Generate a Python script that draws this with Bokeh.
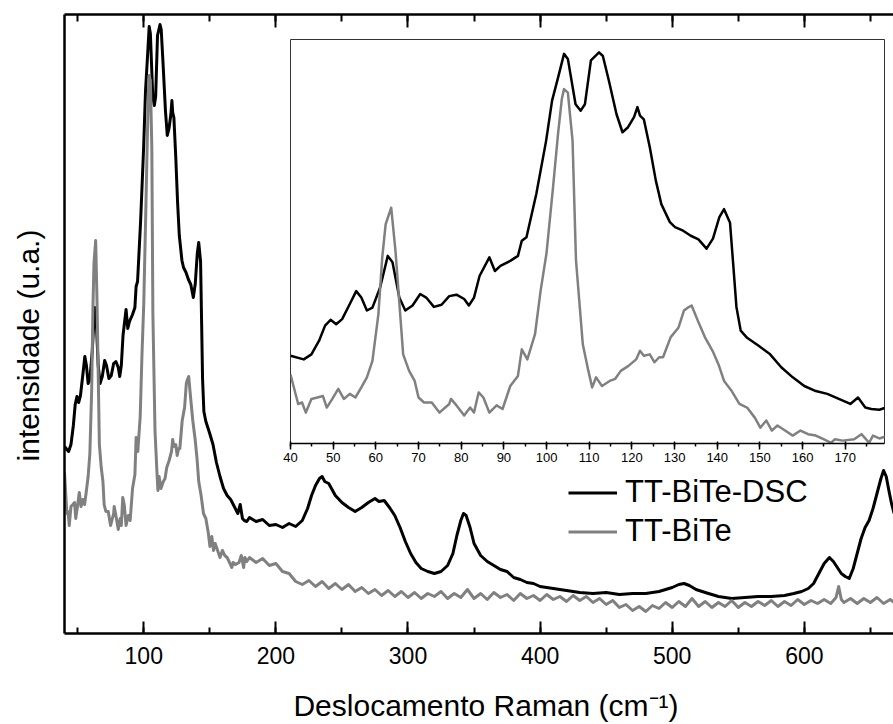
from bokeh.plotting import figure
from bokeh.models import (Range1d, LinearAxis, SingleIntervalTicker, FixedTicker, Legend,
                          LegendItem)
from bokeh.embed import file_html
from bokeh.resources import INLINE

FONT = "Liberation Sans"

# ---------------- data (Raman shift in cm-1, intensity in a.u.) ----------------
dsc_x = [40, 43.1, 44.9, 46.7, 48.1, 49.4, 50.7, 52.1, 53.9, 55.4, 56.6, 57.9, 59.2, 61, 62.8,
         63.9, 65.5, 66.9, 68.6, 70.4, 71.8, 73.6, 75.4, 77.2, 78.9, 80.7, 81.8, 83, 84.3, 86.6,
         87.9, 89.2, 91.5, 93.3, 94.2, 95.3, 97.6, 99.9, 101.3, 102.7, 104.1, 105, 106.8, 108,
         109, 110.4, 112.3, 113.2, 114.6, 116.4, 117.8, 119.1, 120.5, 121.3, 121.9, 122.8, 124.2,
         125.6, 126.9, 128.9, 130.1, 132, 133.8, 135.6, 137.5, 139, 140.5, 141.6, 143, 143.8,
         144.5, 145.5, 147, 149.7, 152.4, 155, 157.7, 160.4, 163.1, 165.8, 168.5, 171.2, 173,
         174.7, 176.1, 178,
         180, 185, 190, 195, 200, 205, 210, 215, 220, 224, 227, 230, 233, 235, 237, 240, 245,
         250, 255, 260, 265, 270, 275, 278, 282, 286, 290, 294, 298, 302, 306, 310, 315, 320,
         325, 330, 334, 337, 340, 342, 344, 347, 350, 355, 360, 365, 370, 375, 380, 385, 390,
         395, 400, 410, 420, 430, 440, 450, 460, 470, 480, 490, 495, 500, 505, 509, 513, 518,
         525, 535, 545, 555, 565, 575, 585, 592, 598, 603, 607, 611, 615, 619, 622, 625, 628,
         631, 634, 637, 640, 643, 646, 649, 652, 655, 658, 660, 662, 664, 666, 668]
dsc_y = [187, 182, 189, 208, 229, 237, 231, 238, 259, 277, 268, 250, 254, 282, 326,
         317, 268, 250, 257, 273, 268, 255, 258, 270, 272, 266, 257, 268, 298, 324,
         305, 312, 319, 326, 347, 352, 412, 486, 542, 574, 607, 600, 537, 528,
         537, 598, 609, 604, 570, 523, 498, 505, 519, 533, 521, 516, 477,
         431, 398, 373, 366, 361, 354, 349, 336, 350, 380, 391, 372, 310,
         255, 222, 212, 201, 189, 171, 157, 145, 138, 134, 127, 120, 129,
         115, 113, 112,
         116, 112, 114, 108, 109, 106, 110, 107, 113, 125, 138, 148, 155, 157, 152, 150, 138,
         131, 126, 122, 126, 131, 135, 132, 133, 126, 118, 106, 92, 80, 71, 65, 62, 60,
         62, 68, 80, 98, 113, 120, 118, 106, 90, 78, 72, 68, 64, 62, 56, 54, 51,
         50, 47, 45, 43, 41, 40, 41, 39, 40, 40, 42, 44, 46, 49, 50, 48, 44,
         41, 37, 35, 36, 37, 37, 38, 40, 42, 45, 50, 60, 70, 76, 72, 66, 60,
         57, 55, 65, 80, 95, 106, 113, 125, 140, 155, 163, 157, 143, 130, 120]

bite_x = [40, 41.8, 42.7, 43.6, 44.9, 46.3, 47.6, 48.5, 49.8, 51.2, 52.5, 53.9, 55.2, 56.6,
          57.9, 59.2, 60.6, 61.5, 62.3, 63.6, 64.6, 66.4, 67.8, 69.1, 70, 71.3, 73.1, 74.9,
          77.2, 77.6, 78.9, 80.7, 82.1, 83, 84.1, 85.2, 86.6, 88.3, 89.7, 91.5, 93.3, 94.2,
          95.5, 97.3, 98.6, 100, 101.5, 102.7, 103.6, 104.1, 105, 106.1, 106.9, 108.5, 109.8,
          110.7, 111.6, 113, 114.8, 116.1, 117.4, 119.2, 121, 121.9, 122.8, 124.2, 125.3,
          126.4, 127.3, 129.1, 130.9, 132.2, 133.1, 134, 135.3, 137.1, 138.9, 140.3, 141.6,
          143.4, 145.2, 147, 148.8, 150.1, 151.5, 152.8, 154.1, 155.9, 157.7, 159.5, 161.3,
          163.1, 164.9, 166.7, 167.6, 169.4, 172.1, 173.8, 175.6, 176.5, 178,
          180, 185, 190, 195, 200, 205, 210, 215, 220, 225, 230, 235, 240, 245, 250, 255,
          260, 265, 270, 275, 280, 285, 290, 295, 300, 305, 310, 315, 320, 325, 330, 335,
          340, 345, 350, 355, 360, 365, 370, 375, 380, 385, 390, 395, 400, 405, 410, 415,
          420, 425, 430, 435, 440, 445, 450, 455, 460, 465, 470, 475, 480, 485, 490, 495,
          500, 505, 510, 515, 520, 525, 530, 535, 540, 545, 550, 555, 560, 565, 570, 575,
          580, 585, 590, 595, 600, 605, 610, 615, 620, 624, 626, 628, 630, 635, 640, 645,
          650, 655, 660, 665, 668]
bite_y = [161, 120, 122, 108, 127, 129, 131, 115, 127, 141, 127, 134, 129, 143,
          157, 180, 245, 324, 370, 393, 333, 189, 166, 152, 129, 122, 122, 108,
          120, 127, 118, 104, 115, 108, 136, 129, 108, 118, 113, 145, 159, 196,
          182, 217, 277, 330, 420, 496, 545, 558, 553, 486, 320, 203, 166,
          143, 157, 145, 152, 155, 166, 173, 182, 194, 187, 189, 178,
          185, 185, 213, 226, 250, 254, 257, 238, 213, 194, 175, 152,
          138, 120, 115, 101, 87, 97, 83, 90, 83, 76, 83, 78,
          76, 71, 66, 71, 69, 71, 78, 66, 76, 72,
          76, 71, 75, 68, 70, 62, 60, 52, 49, 53, 47, 52, 45, 50, 44, 49,
          42, 46, 40, 44, 38, 43, 37, 42, 36, 41, 35, 40, 37, 42, 35, 40,
          36, 44, 35, 40, 34, 41, 36, 39, 33, 40, 35, 38, 33, 39, 34, 37,
          32, 38, 33, 37, 31, 35, 29, 33, 26, 29, 23, 27, 22, 28, 25, 31,
          26, 32, 27, 35, 27, 32, 26, 31, 27, 33, 26, 31, 27, 32, 28, 33,
          27, 32, 28, 34, 29, 33, 30, 34, 30, 36, 47, 34, 31, 35, 30, 35,
          31, 36, 30, 34, 31]

series_names = ["TT-BiTe-DSC", "TT-BiTe"]
series_colors = ["#000000", "#808080"]
x_title = "Deslocamento Raman (cm\u207b\u00b9)"
y_title = "intensidade (u.a.)"

main_xticks_interval = 100
inset_xticks_interval = 10

W, H = 893, 724


def title_axis(text, size):
    """An invisible axis that only carries a title text."""
    ax = LinearAxis(ticker=FixedTicker(ticks=[]))
    ax.axis_line_color = None
    ax.major_tick_line_color = None
    ax.minor_tick_line_color = None
    ax.major_tick_in = 0
    ax.major_tick_out = 0
    ax.minor_tick_out = 0
    ax.major_label_text_color = None
    ax.major_label_standoff = 0
    ax.axis_label = text
    ax.axis_label_text_font = FONT
    ax.axis_label_text_font_size = size
    ax.axis_label_text_font_style = "normal"
    ax.axis_label_text_color = "black"
    return ax


def overlay(**borders):
    """A transparent figure laid exactly over the main one."""
    f = figure(width=W, height=H, output_backend="svg", toolbar_location=None,
               x_range=Range1d(0, 1), y_range=Range1d(0, 1),
               x_axis_location=None, y_axis_location=None, **borders)
    f.grid.visible = False
    f.outline_line_color = None
    f.background_fill_alpha = 0
    f.border_fill_alpha = 0
    f.styles = {"position": "absolute", "left": "0px", "top": "0px"}
    return f


# ---------------- main plot ----------------
p = figure(width=W, height=H, output_backend="svg", toolbar_location=None,
           x_range=Range1d(40, 667.5), y_range=Range1d(0, 619),
           x_axis_location=None, y_axis_location=None,
           min_border_left=64, min_border_right=0, min_border_top=14,
           min_border_bottom=91)
p.outline_line_color = None
p.background_fill_color = "white"
p.border_fill_color = "white"
p.grid.visible = False

bottom = LinearAxis(ticker=SingleIntervalTicker(interval=main_xticks_interval, num_minor_ticks=2))
bottom.axis_line_width = 2.5
bottom.major_tick_line_width = 2
bottom.minor_tick_line_width = 2
bottom.major_tick_in = 12
bottom.major_tick_out = 0
bottom.minor_tick_in = 6
bottom.minor_tick_out = 0
bottom.major_label_text_font = FONT
bottom.major_label_text_font_size = "23px"
bottom.major_label_text_color = "black"
bottom.major_label_standoff = 13
p.add_layout(bottom, "below")

top = LinearAxis(ticker=SingleIntervalTicker(interval=main_xticks_interval, num_minor_ticks=2))
top.axis_line_width = 2.5
top.major_tick_line_width = 2
top.minor_tick_line_width = 2
top.major_tick_in = 13
top.major_tick_out = 0
top.minor_tick_in = 7
top.minor_tick_out = 0
top.major_label_text_font_size = "1px"
top.major_label_text_color = None
top.major_label_standoff = 0
p.add_layout(top, "above")

left = LinearAxis(ticker=FixedTicker(ticks=[]))
left.axis_line_width = 2.5
left.major_tick_in = 0
left.major_tick_out = 0
left.minor_tick_in = 0
left.minor_tick_out = 0
left.major_tick_line_color = None
left.minor_tick_line_color = None
left.major_label_text_color = None
left.major_label_standoff = 0
p.add_layout(left, "left")

r_dsc = p.line(dsc_x, dsc_y, line_color=series_colors[0], line_width=3, line_join="round")
r_bite = p.line(bite_x, bite_y, line_color=series_colors[1], line_width=3, line_join="round")

legend = Legend(items=[LegendItem(label=series_names[0], renderers=[r_dsc]),
                       LegendItem(label=series_names[1], renderers=[r_bite])],
                location=(504, 84))
legend.border_line_color = None
legend.background_fill_alpha = 0
legend.padding = 0
legend.margin = 0
legend.spacing = 3
legend.glyph_width = 49
legend.glyph_height = 35
legend.label_height = 35
legend.label_standoff = 8
legend.label_text_font = FONT
legend.label_text_font_size = "31px"
legend.label_text_color = "black"
p.add_layout(legend)

# ---------------- inset (separate root, overlaid on the main plot) ----------------
ins = figure(width=W, height=H, output_backend="svg", toolbar_location=None,
             x_range=Range1d(40, 179.2), y_range=Range1d(65, 627),
             y_axis_location=None,
             min_border_left=290, min_border_right=9, min_border_top=39,
             min_border_bottom=281)
ins.grid.visible = False
ins.outline_line_color = "#333333"
ins.outline_line_width = 1
ins.background_fill_color = "white"
ins.border_fill_alpha = 0
ins.xaxis.ticker = SingleIntervalTicker(interval=inset_xticks_interval, num_minor_ticks=2)
ins.xaxis.axis_line_width = 1.5
ins.xaxis.major_tick_line_width = 1.5
ins.xaxis.minor_tick_line_width = 1.5
ins.xaxis.major_tick_in = 2
ins.xaxis.major_tick_out = 6
ins.xaxis.minor_tick_in = 0
ins.xaxis.minor_tick_out = 3
ins.xaxis.major_label_text_font = FONT
ins.xaxis.major_label_text_font_size = "13px"
ins.xaxis.major_label_text_color = "black"
ins.xaxis.major_label_standoff = 3

ins.line(dsc_x, dsc_y, line_color=series_colors[0], line_width=2.5, line_join="round")
ins.line(bite_x, bite_y, line_color=series_colors[1], line_width=2.5, line_join="round")
ins.styles = {"position": "absolute", "left": "0px", "top": "0px"}

# ---------------- axis titles (transparent overlays placing the texts) ----------------
yt = overlay(min_border_left=64, min_border_right=W - 64 - 10,
             min_border_top=230, min_border_bottom=H - 460)
yax = title_axis(y_title, "30px")
yax.axis_label_standoff = 20
yt.add_layout(yax, "left")

xt = overlay(min_border_left=78, min_border_right=0,
             min_border_top=640, min_border_bottom=34)
xax = title_axis(x_title, "30px")
xax.axis_label_standoff = 0
xt.add_layout(xax, "below")

open("out.html", "w").write(file_html([p, ins, yt, xt], INLINE))
